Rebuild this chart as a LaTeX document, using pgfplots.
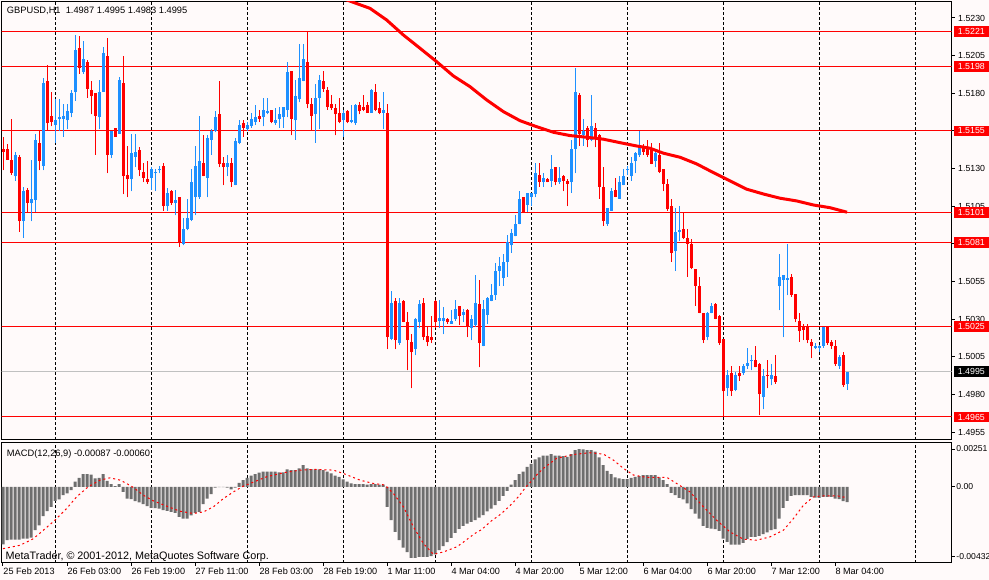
\documentclass[border=0pt]{standalone}
\usepackage{pgfplots}
\pgfplotsset{compat=1.18}
\usepackage{pgfplotstable}
\usepackage{fontspec}
\setmainfont{Liberation Sans}
\definecolor{bg}{RGB}{255,250,250}
\definecolor{bull}{RGB}{30,144,255}
\definecolor{bear}{RGB}{255,0,0}
\definecolor{histc}{RGB}{110,110,110}
\definecolor{bidc}{RGB}{192,192,192}
\newcommand\fs[1]{\fontsize{#1}{#1}\selectfont}

\pgfplotstableread{
i O H L C
3 1.5125 1.5141 1.5122 1.5139
5 1.5095 1.5118 1.5084 1.5115
7 1.5107 1.5136 1.5095 1.5110
8 1.5109 1.5153 1.5101 1.5149
10 1.5132 1.5190 1.5129 1.5187
13 1.5159 1.5176 1.5147 1.5162
14 1.5163 1.5176 1.5155 1.5164
15 1.5163 1.5173 1.5151 1.5165
16 1.5162 1.5173 1.5156 1.5168
17 1.5167 1.5182 1.5164 1.5180
18 1.5181 1.5219 1.5175 1.5209
20 1.5194 1.5215 1.5193 1.5203
24 1.5164 1.5189 1.5156 1.5181
25 1.5181 1.5211 1.5181 1.5207
27 1.5139 1.5155 1.5137 1.5155
29 1.5153 1.5191 1.5153 1.5189
32 1.5123 1.5153 1.5115 1.5140
33 1.5138 1.5153 1.5131 1.5141
37 1.5124 1.5131 1.5116 1.5130
38 1.5127 1.5130 1.5115 1.5128
39 1.5129 1.5132 1.5127 1.5130
41 1.5105 1.5117 1.5102 1.5114
43 1.5107 1.5116 1.5099 1.5109
45 1.5080 1.5097 1.5079 1.5090
46 1.5090 1.5110 1.5089 1.5097
47 1.5096 1.5130 1.5095 1.5121
48 1.5111 1.5145 1.5099 1.5132
49 1.5111 1.5165 1.5110 1.5135
51 1.5124 1.5152 1.5111 1.5150
52 1.5149 1.5156 1.5139 1.5155
53 1.5155 1.5168 1.5154 1.5164
56 1.5131 1.5139 1.5125 1.5134
58 1.5119 1.5150 1.5119 1.5148
59 1.5147 1.5162 1.5146 1.5159
61 1.5156 1.5161 1.5155 1.5159
62 1.5158 1.5167 1.5157 1.5163
63 1.5161 1.5172 1.5159 1.5164
65 1.5164 1.5177 1.5158 1.5169
66 1.5167 1.5177 1.5166 1.5168
68 1.5160 1.5170 1.5159 1.5162
69 1.5163 1.5171 1.5157 1.5166
70 1.5164 1.5171 1.5157 1.5171
71 1.5169 1.5201 1.5164 1.5194
73 1.5162 1.5189 1.5149 1.5178
74 1.5176 1.5213 1.5174 1.5190
75 1.5188 1.5213 1.5188 1.5203
78 1.5166 1.5186 1.5147 1.5177
79 1.5177 1.5192 1.5156 1.5189
85 1.5162 1.5169 1.5151 1.5167
87 1.5161 1.5172 1.5160 1.5162
88 1.5160 1.5173 1.5159 1.5172
92 1.5167 1.5183 1.5167 1.5182
95 1.5167 1.5181 1.5156 1.5169
97 1.5017 1.5049 1.5016 1.5041
99 1.5014 1.5044 1.5013 1.5041
103 1.5010 1.5031 1.5006 1.5030
104 1.5028 1.5043 1.5024 1.5040
109 1.5029 1.5043 1.5024 1.5031
110 1.5029 1.5038 1.5020 1.5031
112 1.5027 1.5036 1.5027 1.5029
113 1.5030 1.5043 1.5029 1.5037
115 1.5033 1.5037 1.5028 1.5035
117 1.5024 1.5033 1.5016 1.5030
118 1.5026 1.5059 1.5025 1.5041
120 1.5012 1.5043 1.5012 1.5037
121 1.5033 1.5045 1.5027 1.5044
122 1.5042 1.5053 1.5042 1.5046
123 1.5046 1.5067 1.5043 1.5062
124 1.5062 1.5071 1.5052 1.5065
125 1.5057 1.5073 1.5052 1.5068
126 1.5068 1.5086 1.5058 1.5081
127 1.5079 1.5090 1.5074 1.5087
128 1.5085 1.5099 1.5085 1.5093
129 1.5093 1.5115 1.5093 1.5110
131 1.5106 1.5114 1.5101 1.5114
132 1.5111 1.5114 1.5105 1.5114
133 1.5113 1.5134 1.5111 1.5127
135 1.5121 1.5127 1.5118 1.5124
137 1.5122 1.5139 1.5118 1.5130
139 1.5121 1.5131 1.5120 1.5124
142 1.5121 1.5149 1.5114 1.5143
143 1.5143 1.5197 1.5127 1.5181
145 1.5152 1.5163 1.5145 1.5155
147 1.5149 1.5179 1.5148 1.5158
151 1.5093 1.5104 1.5092 1.5104
152 1.5102 1.5117 1.5102 1.5115
154 1.5110 1.5125 1.5110 1.5121
155 1.5119 1.5130 1.5119 1.5125
156 1.5129 1.5132 1.5126 1.5130
157 1.5125 1.5138 1.5122 1.5134
158 1.5135 1.5141 1.5127 1.5140
159 1.5139 1.5155 1.5138 1.5144
163 1.5135 1.5142 1.5131 1.5140
168 1.5075 1.5104 1.5062 1.5088
169 1.5088 1.5105 1.5082 1.5089
176 1.5018 1.5035 1.5016 1.5034
177 1.5034 1.5041 1.5034 1.5039
181 1.4984 1.4996 1.4979 1.4993
183 1.4983 1.4995 1.4982 1.4993
185 1.4994 1.5000 1.4993 1.4999
186 1.4999 1.5011 1.4997 1.5001
187 1.5002 1.5006 1.4996 1.5003
190 1.4978 1.4997 1.4970 1.4992
192 1.4990 1.5000 1.4986 1.4993
194 1.5052 1.5073 1.5036 1.5058
195 1.5056 1.5059 1.5018 1.5059
196 1.5056 1.5080 1.5046 1.5057
203 1.5011 1.5014 1.5010 1.5012
204 1.5011 1.5013 1.5008 1.5012
205 1.5012 1.5025 1.5011 1.5025
209 1.4999 1.5006 1.4997 1.5005
211 1.4987 1.4995 1.4983 1.4995
}\bulltab

\pgfplotstableread{
i O H L C
0 1.5143 1.5151 1.5129 1.5141
1 1.5143 1.5146 1.5136 1.5136
2 1.5136 1.5163 1.5126 1.5127
4 1.5138 1.5139 1.5088 1.5095
6 1.5116 1.5117 1.5101 1.5107
9 1.5147 1.5155 1.5129 1.5135
11 1.5188 1.5199 1.5155 1.5160
12 1.5165 1.5181 1.5158 1.5161
19 1.5210 1.5218 1.5193 1.5197
21 1.5201 1.5202 1.5177 1.5183
22 1.5182 1.5188 1.5166 1.5178
23 1.5180 1.5180 1.5139 1.5165
26 1.5205 1.5217 1.5127 1.5139
28 1.5157 1.5157 1.5151 1.5151
30 1.5187 1.5205 1.5113 1.5125
31 1.5126 1.5145 1.5111 1.5123
34 1.5142 1.5144 1.5125 1.5129
35 1.5128 1.5134 1.5121 1.5124
36 1.5123 1.5135 1.5120 1.5121
40 1.5132 1.5134 1.5102 1.5105
42 1.5115 1.5116 1.5106 1.5107
44 1.5111 1.5111 1.5078 1.5081
50 1.5134 1.5152 1.5125 1.5125
54 1.5166 1.5188 1.5131 1.5133
55 1.5134 1.5138 1.5119 1.5131
57 1.5134 1.5137 1.5118 1.5121
60 1.5160 1.5162 1.5151 1.5157
64 1.5165 1.5169 1.5161 1.5163
67 1.5169 1.5169 1.5160 1.5161
72 1.5195 1.5195 1.5152 1.5163
76 1.5201 1.5221 1.5170 1.5173
77 1.5173 1.5177 1.5155 1.5165
80 1.5188 1.5195 1.5181 1.5183
81 1.5182 1.5184 1.5169 1.5171
82 1.5173 1.5179 1.5169 1.5170
83 1.5170 1.5173 1.5152 1.5166
84 1.5167 1.5177 1.5160 1.5161
86 1.5168 1.5169 1.5160 1.5161
89 1.5172 1.5174 1.5166 1.5168
90 1.5171 1.5179 1.5168 1.5169
91 1.5172 1.5174 1.5167 1.5167
93 1.5181 1.5186 1.5168 1.5169
94 1.5170 1.5174 1.5166 1.5167
96 1.5167 1.5173 1.5010 1.5018
98 1.5042 1.5044 1.5010 1.5016
100 1.5042 1.5043 1.5028 1.5028
101 1.5028 1.5035 1.4996 1.5016
102 1.5015 1.5020 1.4984 1.5008
105 1.5041 1.5044 1.5016 1.5018
106 1.5019 1.5025 1.5012 1.5015
107 1.5018 1.5032 1.5014 1.5016
108 1.5042 1.5043 1.5024 1.5028
111 1.5030 1.5031 1.5027 1.5028
114 1.5039 1.5039 1.5026 1.5032
116 1.5036 1.5037 1.5018 1.5025
119 1.5040 1.5056 1.4998 1.5014
130 1.5111 1.5111 1.5101 1.5101
134 1.5126 1.5134 1.5118 1.5121
136 1.5123 1.5124 1.5121 1.5121
138 1.5131 1.5131 1.5119 1.5121
140 1.5125 1.5126 1.5115 1.5122
141 1.5122 1.5123 1.5105 1.5120
144 1.5179 1.5180 1.5145 1.5153
146 1.5157 1.5158 1.5144 1.5149
148 1.5157 1.5160 1.5144 1.5151
149 1.5152 1.5153 1.5110 1.5118
150 1.5118 1.5131 1.5092 1.5095
153 1.5116 1.5124 1.5111 1.5111
160 1.5145 1.5146 1.5139 1.5141
161 1.5143 1.5149 1.5138 1.5139
162 1.5143 1.5147 1.5133 1.5133
164 1.5139 1.5147 1.5127 1.5128
165 1.5130 1.5130 1.5115 1.5120
166 1.5120 1.5123 1.5102 1.5103
167 1.5105 1.5110 1.5068 1.5074
170 1.5090 1.5101 1.5083 1.5084
171 1.5084 1.5090 1.5058 1.5080
172 1.5080 1.5083 1.5063 1.5064
173 1.5063 1.5063 1.5039 1.5052
174 1.5052 1.5058 1.5034 1.5034
175 1.5034 1.5034 1.5014 1.5016
178 1.5040 1.5041 1.5030 1.5030
179 1.5032 1.5033 1.5013 1.5014
180 1.5017 1.5017 1.4965 1.4982
182 1.4994 1.4999 1.4979 1.4982
184 1.4994 1.4999 1.4989 1.4992
188 1.5003 1.5012 1.4998 1.4998
189 1.5000 1.5001 1.4966 1.4980
191 1.4993 1.5003 1.4984 1.4992
193 1.4992 1.5006 1.4987 1.4988
197 1.5058 1.5060 1.5045 1.5046
198 1.5047 1.5047 1.5028 1.5030
199 1.5029 1.5034 1.5015 1.5022
200 1.5025 1.5027 1.5016 1.5023
201 1.5025 1.5027 1.5014 1.5016
202 1.5015 1.5017 1.5004 1.5012
206 1.5025 1.5025 1.5013 1.5014
207 1.5015 1.5016 1.5010 1.5012
208 1.5012 1.5016 1.4999 1.5000
210 1.5006 1.5008 1.4985 1.4986
}\beartab

\pgfplotstableread{
i ma
84 1.52439
88 1.52400
91.75 1.52364
95.9 1.52287
100.1 1.52187
104.25 1.52099
108.4 1.52010
112.6 1.51915
116.75 1.51844
120.9 1.51756
125.1 1.51678
129.25 1.51618
133.4 1.51578
137.6 1.51541
141.75 1.51519
145.9 1.51508
150.1 1.51495
154.25 1.51472
158.4 1.51450
161.75 1.51435
165.1 1.51402
169.25 1.51375
173.4 1.51331
177.6 1.51273
181.75 1.51218
185.9 1.51163
190.1 1.51131
194.25 1.51103
198.4 1.51085
202.6 1.51058
206.75 1.51040
211 1.51010
}\matab

\pgfplotstableread{
i m
0 -0.00327
1 -0.00304
2 -0.00300
3 -0.00300
4 -0.00300
5 -0.00295
6 -0.00295
7 -0.00289
8 -0.00247
9 -0.00219
10 -0.00167
11 -0.00139
12 -0.00114
13 -0.00080
14 -0.00072
15 -0.00048
16 -0.00038
17 -0.00019
18 0.00029
19 0.00051
20 0.00072
21 0.00072
22 0.00070
23 0.00048
24 0.00051
25 0.00072
26 0.00034
27 0.00015
28 0.00004
29 0.00015
30 -0.00029
31 -0.00067
32 -0.00070
33 -0.00082
34 -0.00089
35 -0.00099
36 -0.00110
37 -0.00120
38 -0.00122
39 -0.00124
40 -0.00133
41 -0.00137
42 -0.00143
43 -0.00148
44 -0.00171
45 -0.00181
46 -0.00181
47 -0.00162
48 -0.00148
49 -0.00143
50 -0.00099
51 -0.00067
52 -0.00042
53 -0.00004
54 -0.00002
55 -0.00002
56 -0.00004
57 -0.00015
58 -0.00004
59 0.00023
60 0.00038
61 0.00051
62 0.00063
63 0.00072
64 0.00080
65 0.00086
66 0.00086
67 0.00086
68 0.00086
69 0.00082
70 0.00082
71 0.00099
72 0.00095
73 0.00095
74 0.00105
75 0.00124
76 0.00105
77 0.00101
78 0.00099
79 0.00099
80 0.00095
81 0.00086
82 0.00076
83 0.00063
84 0.00057
85 0.00042
86 0.00029
87 0.00019
88 0.00015
89 0.00015
90 0.00015
91 0.00013
92 0.00015
93 0.00015
94 0.00013
95 0.00013
96 -0.00114
97 -0.00190
98 -0.00257
99 -0.00304
100 -0.00346
101 -0.00372
102 -0.00405
103 -0.00405
104 -0.00399
105 -0.00399
106 -0.00399
107 -0.00395
108 -0.00384
109 -0.00360
110 -0.00338
111 -0.00315
112 -0.00290
113 -0.00262
114 -0.00240
115 -0.00222
116 -0.00210
117 -0.00200
118 -0.00190
119 -0.00175
120 -0.00161
121 -0.00140
122 -0.00124
123 -0.00105
124 -0.00080
125 -0.00052
126 -0.00023
127 0.00012
128 0.00038
129 0.00072
130 0.00087
131 0.00114
132 0.00130
133 0.00156
134 0.00167
135 0.00177
136 0.00177
137 0.00186
138 0.00177
139 0.00177
140 0.00175
141 0.00171
142 0.00186
143 0.00209
144 0.00215
145 0.00213
146 0.00209
147 0.00209
148 0.00200
149 0.00167
150 0.00124
151 0.00091
152 0.00072
153 0.00053
154 0.00048
155 0.00044
156 0.00044
157 0.00051
158 0.00057
159 0.00061
160 0.00067
161 0.00067
162 0.00067
163 0.00067
164 0.00053
165 0.00038
166 0.00015
167 -0.00034
168 -0.00048
169 -0.00063
170 -0.00072
171 -0.00095
172 -0.00127
173 -0.00152
174 -0.00181
175 -0.00222
176 -0.00234
177 -0.00238
178 -0.00241
179 -0.00251
180 -0.00295
181 -0.00314
182 -0.00329
183 -0.00329
184 -0.00329
185 -0.00319
186 -0.00298
187 -0.00285
188 -0.00285
189 -0.00279
190 -0.00270
191 -0.00260
192 -0.00247
193 -0.00241
194 -0.00181
195 -0.00120
196 -0.00080
197 -0.00051
198 -0.00048
199 -0.00048
200 -0.00048
201 -0.00048
202 -0.00057
203 -0.00061
204 -0.00063
205 -0.00057
206 -0.00057
207 -0.00057
208 -0.00067
209 -0.00070
210 -0.00082
211 -0.00087
}\macdtab

\pgfplotstableread{
i s
0 -0.00352
4.25 -0.00333
7.6 -0.00295
10.1 -0.00247
13 -0.00190
15.9 -0.00124
18.4 -0.00057
21.3 0.00000
24.25 0.00038
26.75 0.00051
29.25 0.00038
30.9 0.00019
32.6 -0.00004
35.1 -0.00048
37.6 -0.00080
40.9 -0.00110
44.25 -0.00139
47.6 -0.00152
50.1 -0.00143
52.6 -0.00114
55.1 -0.00067
57.6 -0.00029
60.1 0.00004
63.4 0.00034
65.9 0.00057
70.1 0.00080
74.25 0.00095
78.4 0.00099
82.6 0.00095
85.1 0.00076
89.25 0.00038
92.6 0.00019
95.5 0.00010
97.6 -0.00038
100.1 -0.00114
102.6 -0.00228
105.1 -0.00323
107.6 -0.00384
110.1 -0.00371
113.4 -0.00342
114.7 -0.00322
116.3 -0.00294
118 -0.00265
119.7 -0.00243
120.9 -0.00218
122.3 -0.00190
123.8 -0.00167
125.3 -0.00138
126.9 -0.00104
128.25 -0.00072
129.5 -0.00038
130.75 0.00000
132.2 0.00034
133.4 0.00067
135.1 0.00105
138.4 0.00162
142.6 0.00184
146.75 0.00194
150.1 0.00186
152.6 0.00152
155.1 0.00105
157.6 0.00067
161 0.00053
166 0.00053
168.4 0.00019
171.75 -0.00029
175.1 -0.00114
178.4 -0.00190
181.75 -0.00257
185.1 -0.00298
188.4 -0.00304
191.75 -0.00285
195.1 -0.00247
197.6 -0.00181
200.1 -0.00105
202.6 -0.00057
205.1 -0.00051
208.4 -0.00051
211 -0.00062
}\sigtab

\pgfplotsset{
  sepgrid/.style={
    extra x ticks={13,37,61,85,108,132,156,180,204,228},
    extra x tick labels={},
    extra x tick style={grid=major, major tick length=0pt,
      major grid style={black, line width=1bp, dash pattern=on 3bp off 2bp}},
  },
  wick/.style={only marks, mark=*, mark size=0pt, mark options={draw=none, fill=none}, forget plot,
    error bars/.cd, y dir=plus, y explicit, error mark=none,
    error bar style={line width=1bp, color=#1}},
  body/.style={only marks, mark=*, mark size=0pt, mark options={draw=none, fill=none}, forget plot,
    error bars/.cd, y dir=plus, y explicit, error mark=none,
    error bar style={line width=3bp, color=#1}},
}

\begin{document}
\begin{tikzpicture}
\fill[bg] (0,0) rectangle (989bp,580bp);
\useasboundingbox (0,0) rectangle (989bp,580bp);

\begin{axis}[
  at={(1.7bp,140bp)}, anchor=south west, scale only axis,
  width=950bp, height=438bp,
  xmin=-0.325, xmax=237.175, ymin=1.49497, ymax=1.524063,
  axis line style={black, line width=1bp},
  xtick=\empty,
  ytick={1.4955,1.4980,1.5005,1.5030,1.5055,1.5080,1.5105,1.5130,1.5155,1.5180,1.5205,1.5230},
  yticklabels={1.4955,1.4980,1.5005,1.5030,1.5055,1.5080,1.5105,1.5130,1.5155,1.5180,1.5205,1.5230},
  ytick pos=right, yticklabel pos=right,
  tick align=outside, major tick length=3bp, tick style={black, line width=1bp},
  yticklabel style={font=\fs{8.8bp}},
  scaled y ticks=false,
  sepgrid,
]
\addplot [bear, line width=1bp, forget plot] coordinates {(-5,1.5221) (245,1.5221)};
\addplot [bear, line width=1bp, forget plot] coordinates {(-5,1.5198) (245,1.5198)};
\addplot [bear, line width=1bp, forget plot] coordinates {(-5,1.5155) (245,1.5155)};
\addplot [bear, line width=1bp, forget plot] coordinates {(-5,1.5101) (245,1.5101)};
\addplot [bear, line width=1bp, forget plot] coordinates {(-5,1.5081) (245,1.5081)};
\addplot [bear, line width=1bp, forget plot] coordinates {(-5,1.5025) (245,1.5025)};
\addplot [bear, line width=1bp, forget plot] coordinates {(-5,1.4965) (245,1.4965)};
\addplot [bidc, line width=1bp, forget plot] coordinates {(-5,1.4995) (245,1.4995)};

\addplot [wick=bull] table [x=i, y=L, y error plus expr={\thisrow{H}-\thisrow{L}}] {\bulltab};
\addplot [wick=bear] table [x=i, y=L, y error plus expr={\thisrow{H}-\thisrow{L}}] {\beartab};
\addplot [body=bull] table [x=i, y=O, y error plus expr={\thisrow{C}-\thisrow{O}}] {\bulltab};
\addplot [body=bear] table [x=i, y=C, y error plus expr={\thisrow{O}-\thisrow{C}}] {\beartab};

\addplot [bear, line width=3bp, forget plot] table [x=i, y=ma] {\matab};
\end{axis}

\begin{axis}[
  at={(1.7bp,17.3bp)}, anchor=south west, scale only axis,
  width=950bp, height=120bp,
  xmin=-0.325, xmax=237.175, ymin=-0.00432, ymax=0.00251,
  axis line style={black, line width=1bp},
  xtick={0,16,...,208},
  xticklabels={25 Feb 2013,26 Feb 03:00,26 Feb 19:00,27 Feb 11:00,28 Feb 03:00,28 Feb 19:00,1 Mar 11:00,4 Mar 04:00,4 Mar 20:00,5 Mar 12:00,6 Mar 04:00,6 Mar 20:00,7 Mar 12:00,8 Mar 04:00},
  xtick pos=bottom, ytick pos=right, yticklabel pos=right,
  tick align=outside, major tick length=3bp, tick style={black, line width=1bp},
  ytick={0.002151,0,-0.003978}, yticklabels={0.00251,0.00,-0.00432},
  scaled y ticks=false, scaled x ticks=false,
  xticklabel style={font=\fs{9.1bp}, anchor=north west, inner sep=0pt, xshift=0.3bp, yshift=-2.5bp},
  yticklabel style={font=\fs{8.6bp}, inner sep=0pt, xshift=1.5bp},
  sepgrid,
]
\addplot [ybar, bar width=3bp, fill=histc, draw=none, forget plot] table [x=i, y=m] {\macdtab};
\addplot [bear, line width=1bp, dash pattern=on 2bp off 3bp, forget plot] table [x=i, y=s] {\sigtab};
\end{axis}

\node[anchor=base west, inner sep=0pt, font=\fs{9.3bp}] at (6.7bp,566bp) {GBPUSD,H1\ \ 1.4987 1.4995 1.4983 1.4995};
\node[anchor=base west, inner sep=0pt, font=\fs{9.3bp}] at (6.7bp,123.5bp) {MACD(12,26,9) -0.00087 -0.00060};
\node[anchor=base west, inner sep=0pt, font=\fs{10.8bp}] at (5.5bp,20.7bp) {MetaTrader, © 2001-2012, MetaQuotes Software Corp.};

\foreach \p/\yy in {1.5221/548.5, 1.5198/513.8, 1.5155/449.1, 1.5101/367.8, 1.5081/337.7, 1.5025/253.4, 1.4965/163.0}
  \node[fill=bear, text=white, anchor=west, inner sep=0pt, minimum height=10.7bp, minimum width=34.3bp, font=\fs{8.8bp}] at (954bp,\yy bp) {\p};
\node[fill=black, text=white, anchor=west, inner sep=0pt, minimum height=10.7bp, minimum width=34.3bp, font=\fs{8.8bp}] at (954bp,208.2bp) {1.4995};
\end{tikzpicture}
\end{document}
